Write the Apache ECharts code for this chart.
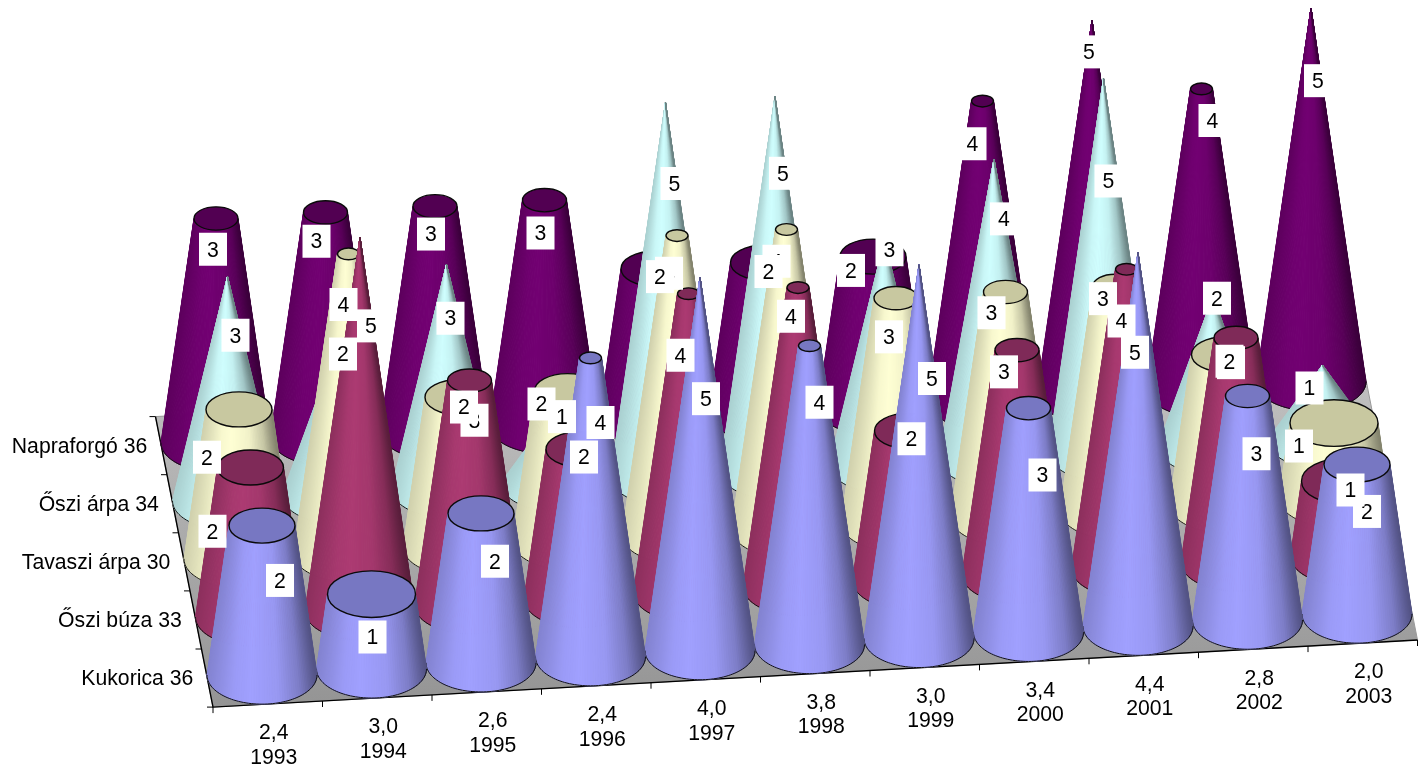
<!DOCTYPE html>
<html>
<head>
<meta charset="utf-8">
<style>html,body{margin:0;padding:0;background:#fff}#c{width:1420px;height:766px}</style>
<script src="https://cdn.jsdelivr.net/npm/echarts@6/dist/echarts.min.js"></script>
</head>
<body>
<div id="c"></div>
<script>
// ---- data ----
var years = ['1993','1994','1995','1996','1997','1998','1999','2000','2001','2002','2003'];
var averages = ['2,4','3,0','2,6','2,4','4,0','3,8','3,0','3,4','4,4','2,8','2,0'];
var cropLabels = ['Kukorica 36','Őszi búza 33','Tavaszi árpa 30','Őszi árpa 34','Napraforgó 36'];
var kukorica   = [2,1,2,4,5,4,5,3,5,3,2];
var osziBuza   = [2,5,3,2,4,4,2,3,4,3,1];
var tavasziArpa= [2,4,2,2,4,4,3,3,3,2,1];
var osziArpa   = [3,2,3,1,5,5,3,4,5,2,1];
var napraforgo = [3,3,3,3,2,2,2,4,5,4,5];
var rows = [kukorica, osziBuza, tavasziArpa, osziArpa, napraforgo];

// ---- styling / layout ----
var sideColors = [[160,160,255],[172,58,114],[255,255,212],[208,255,255],[114,0,114]];
var capColors  = ['#7777c2','#7f2a58','#c8c8a0','#a0d0d0','#520052'];
var pointedRow = [false,false,false,true,false];
var MAX_VALUE = 5, BASE_RX = 55, ELLIPSE = 0.53;
var ROW_DX = 11.5, ROW_DY = 58.1, YEAR_DY = 6.1, TEXT_DROP = 1.5;
var FONT = '21.2px "Liberation Sans", Arial, sans-serif';
// Hand placement of the white value boxes, offset from a point 72% up each cone [dx,dy]
var labelNudge = [
 [[18,13],[1,22],[14,6],[10,-19],[6,17],[10,-27],[13,9],[14,4],[-3,-5],[9,-5],[10,5]],
 [[-38,22],[11,-16],[5,-23],[5,-34],[-8,-22],[-7,-55],[4,-34],[-13,-41],[-5,-32],[-5,-38],[5,-12]],
 [[-32,6],[-5,-33],[6,-32],[-26,-29],[-8,-46],[-10,-52],[-7,-24],[-14,-42],[-12,-50],[5,-35],[-35,2]],
 [[8,-4],[6,-33],[4,-9],[6,-12],[9,-24],[8,-28],[5,-53],[10,-24],[5,-2],[4,-40],[-13,2]],
 [[-3,-32],[-9,-34],[-4,-35],[-4,-30],[6,-34],[5,-33],[-22,-28],[-10,-41],[-3,-73],[11,-52],[7,-32]]
];

var stops = [[-1,.82],[-.5,.97],[-.2,1],[.3,.95],[.7,.78],[1,.52]];
function shadeFactor(u){
  for (var k=1;k<stops.length;k++){
    if (u<=stops[k][0]){
      var a=stops[k-1],b=stops[k];
      return a[1]+(b[1]-a[1])*(u-a[0])/(b[0]-a[0]);
    }
  }
  return stops[stops.length-1][1];
}
function shade(c,u){
  var f=shadeFactor(u);
  return 'rgb('+Math.round(c[0]*f)+','+Math.round(c[1]*f)+','+Math.round(c[2]*f)+')';
}

function floorItem(params,api){
  function P(i,r){
    var a=api.coord([0,0]), b=api.coord([1,0]);
    var px=a[0]+(b[0]-a[0])*i;
    return [px-ROW_DX*r, a[1]-YEAR_DY*i-ROW_DY*r];
  }
  var n=years.length-0.5, m=rows.length-0.5;
  var ch=[];
  ch.push({type:'polygon',shape:{points:[P(-.5,-.5),P(n,-.5),P(n,m),P(-.5,m)]},
    style:{fill:{type:'linear',x:0,y:1,x2:0,y2:0,colorStops:[{offset:0,color:'#949494'},{offset:1,color:'#c4c4c4'}]},stroke:'#9a9a9a',lineWidth:1}});
  ch.push({type:'polyline',shape:{points:[P(-.5,m),P(-.5,-.5),P(n,-.5)]},style:{fill:null,stroke:'#000',lineWidth:1.4}});
  years.forEach(function(y,k){
    var a=P(k-.5,-.5); ch.push({type:'line',shape:{x1:a[0],y1:a[1],x2:a[0],y2:a[1]+6},style:{stroke:'#000',lineWidth:1}});
    var t=P(k,-.5);
    ch.push({type:'text',style:{text:averages[k],x:t[0]+6,y:t[1]+28+TEXT_DROP,textAlign:'center',textVerticalAlign:'middle',font:FONT,fill:'#000'}});
    ch.push({type:'text',style:{text:y,x:t[0]+6,y:t[1]+52.5+TEXT_DROP,textAlign:'center',textVerticalAlign:'middle',font:FONT,fill:'#000'}});
  });
  var e=P(n,-.5); ch.push({type:'line',shape:{x1:e[0],y1:e[1],x2:e[0],y2:e[1]+6},style:{stroke:'#000',lineWidth:1}});
  for (var r=0;r<=rows.length;r++){
    var a=P(-.5,r-.5); ch.push({type:'line',shape:{x1:a[0]-6,y1:a[1],x2:a[0],y2:a[1]},style:{stroke:'#000',lineWidth:1}});
  }
  cropLabels.forEach(function(t,r){
    var a=P(-.5,r);
    ch.push({type:'text',style:{text:t,x:a[0]-14,y:a[1]+TEXT_DROP,textAlign:'right',textVerticalAlign:'middle',font:FONT,fill:'#000'}});
  });
  return {type:'group',children:ch};
}

function coneGeom(api,i,v,r){
  var b=api.coord([i,0]), t=api.coord([i,v]);
  var cx=b[0]-ROW_DX*r, shift=YEAR_DY*i+ROW_DY*r;
  return {cx:cx, by:b[1]-shift, ty:t[1]-shift, h:b[1]-t[1]};
}

function coneItem(params,api){
  var i=api.value(0), v=api.value(1), r=api.value(2);
  var g=coneGeom(api,i,v,r);
  var rt=pointedRow[r]?0:BASE_RX*(1-v/MAX_VALUE);
  var N=64, ch=[], c=sideColors[r], edge=[];
  for (var k=0;k<N;k++){
    var a0=Math.PI*(1-k/N), a1=Math.PI*(1-(k+1)/N);
    var pts=[
      [g.cx+BASE_RX*Math.cos(a0), g.by+BASE_RX*ELLIPSE*Math.sin(a0)],
      [g.cx+BASE_RX*Math.cos(a1), g.by+BASE_RX*ELLIPSE*Math.sin(a1)],
      [g.cx+rt*Math.cos(a1), g.ty+rt*ELLIPSE*Math.sin(a1)],
      [g.cx+rt*Math.cos(a0), g.ty+rt*ELLIPSE*Math.sin(a0)]
    ];
    var col=shade(c,Math.cos((a0+a1)/2));
    ch.push({type:'polygon',shape:{points:pts},style:{fill:col,stroke:col,lineWidth:1}});
  }
  for (var k2=0;k2<=N;k2++){
    var a=Math.PI*(1-k2/N);
    edge.push([g.cx+BASE_RX*Math.cos(a), g.by+BASE_RX*ELLIPSE*Math.sin(a)]);
  }
  ch.push({type:'polyline',shape:{points:edge},style:{fill:null,stroke:'#111',lineWidth:1}});
  if (rt>0.01){
    ch.push({type:'ellipse',shape:{cx:g.cx,cy:g.ty,rx:rt,ry:rt*ELLIPSE},style:{fill:capColors[r],stroke:'#0a0a0a',lineWidth:1.4}});
  }
  return {type:'group',children:ch};
}

function labelItem(params,api){
  var i=api.value(0), v=api.value(1), r=api.value(2);
  var g=coneGeom(api,i,v,r), n=labelNudge[r][i];
  var x=g.cx+n[0], y=g.by-0.72*g.h+n[1];
  return {type:'group',children:[
    {type:'rect',shape:{x:x-14,y:y-16.5,width:28,height:33},style:{fill:'#fff'}},
    {type:'text',style:{text:String(v),x:x,y:y+TEXT_DROP,textAlign:'center',textVerticalAlign:'middle',font:FONT,fill:'#000'}}
  ]};
}

var coneData=[], labelData=[];
for (var r=rows.length-1;r>=0;r--){
  for (var i=years.length-1;i>=0;i--){ coneData.push([i,rows[r][i],r]); }
}
for (var r2=0;r2<rows.length;r2++){
  for (var i2=0;i2<years.length;i2++){ labelData.push([i2,rows[r2][i2],r2]); }
}

var chart=echarts.init(document.getElementById('c'),null,{renderer:'canvas'});
chart.setOption({
  animation:false,
  backgroundColor:'#fff',
  grid:{left:207.25,width:1204.5,top:2.7,height:672.3,containLabel:false},
  xAxis:{type:'category',data:years,boundaryGap:true,show:false},
  yAxis:{type:'value',min:0,max:9,show:false},
  series:[
    {type:'custom',name:'floor',data:[[0,0,0]],renderItem:floorItem,clip:false,silent:true,z:1,encode:{x:0,y:1}},
    {type:'custom',name:'cones',data:coneData,renderItem:coneItem,clip:false,silent:true,z:2,encode:{x:0,y:1}},
    {type:'custom',name:'labels',data:labelData,renderItem:labelItem,clip:false,silent:true,z:3,encode:{x:0,y:1}}
  ]
});
</script>
</body>
</html>
